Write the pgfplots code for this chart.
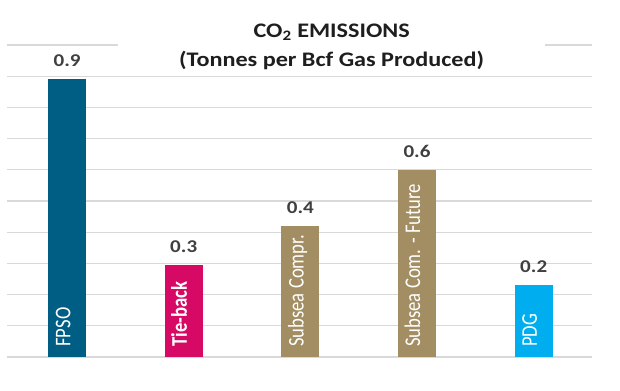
\documentclass[border=0pt]{standalone}
\usepackage{fontspec}
\setmainfont{Carlito}[FakeStretch=1.17]
\newfontfamily\barfont{Carlito}
\usepackage{graphicx}
\usepackage{pgfplots}
\pgfplotsset{compat=1.18}
\definecolor{fpso}{RGB}{0,94,132}
\definecolor{tieback}{RGB}{214,10,100}
\definecolor{tan}{RGB}{163,142,99}
\definecolor{pdg}{RGB}{0,174,239}
\definecolor{gridgray}{RGB}{217,217,217}
\definecolor{lblgray}{RGB}{64,64,64}
\definecolor{titlecol}{RGB}{30,30,30}
\begin{document}
\begin{tikzpicture}
\path[use as bounding box] (-5.25pt,-24.75pt) rectangle (459.75pt,267.75pt);
\begin{axis}[
  scale only axis, width=438.75pt, height=234pt,
  at={(0,0)}, anchor=south west,
  xmin=-0.515, xmax=4.5, ymin=0, ymax=1,
  ytick={0,0.1,0.2,0.3,0.4,0.5,0.6,0.7,0.8,0.9,1.0},
  yticklabels={}, xtick=\empty,
  ymajorgrids, grid style={draw=gridgray, line width=0.9pt},
  axis line style={draw=none}, major tick length=0pt,
  ybar, bar width=28.5pt,
  clip=false,
  /pgf/number format/assume math mode=true,
  nodes near coords={\pgfmathprintnumber[fixed,fixed zerofill,precision=1,assume math mode=true]{\pgfplotspointmeta}},
  point meta=y,
  nodes near coords style={font=\fontsize{13.5}{16}\selectfont\bfseries, text=lblgray, anchor=south, inner sep=0pt, yshift=9pt},
]
\addplot[fill=fpso, draw=none, bar shift=0pt] coordinates {(0,0.89)};
\addplot[fill=tieback, draw=none, bar shift=0pt] coordinates {(1,0.295)};
\addplot[fill=tan, draw=none, bar shift=0pt] coordinates {(2,0.42)};
\addplot[fill=tan, draw=none, bar shift=0pt] coordinates {(3,0.60)};
\addplot[fill=pdg, draw=none, bar shift=0pt] coordinates {(4,0.23)};

\node[rotate=90, anchor=mid west, inner sep=0pt, text=white, font=\barfont\fontsize{14}{16}\selectfont] at (axis cs:0,0.032) {\scalebox{1}[1.2]{FPSO}};
\node[rotate=90, anchor=mid west, inner sep=0pt, text=white, font=\barfont\fontsize{14}{16}\selectfont\bfseries] at (axis cs:1,0.032) {\scalebox{1}[1.2]{Tie-back}};
\node[rotate=90, anchor=mid west, inner sep=0pt, text=white, font=\barfont\fontsize{14}{16}\selectfont] at (axis cs:2,0.032) {\scalebox{1}[1.2]{Subsea Compr.}};
\node[rotate=90, anchor=mid west, inner sep=0pt, text=white, font=\barfont\fontsize{14}{16}\selectfont] at (axis cs:3,0.032) {\scalebox{1}[1.2]{Subsea Com. - Future}};
\node[rotate=90, anchor=mid west, inner sep=0pt, text=white, font=\barfont\fontsize{14}{16}\selectfont] at (axis cs:4,0.032) {\scalebox{1}[1.2]{PDG}};

\node[fill=white, minimum width=320pt, align=center, inner ysep=3pt, font=\fontsize{15.5}{21.5}\selectfont\bfseries, text=titlecol] at (axis cs:2.268,0.995) {CO\textsubscript{2} EMISSIONS\\(Tonnes per Bcf Gas Produced)};
\end{axis}
\end{tikzpicture}
\end{document}
